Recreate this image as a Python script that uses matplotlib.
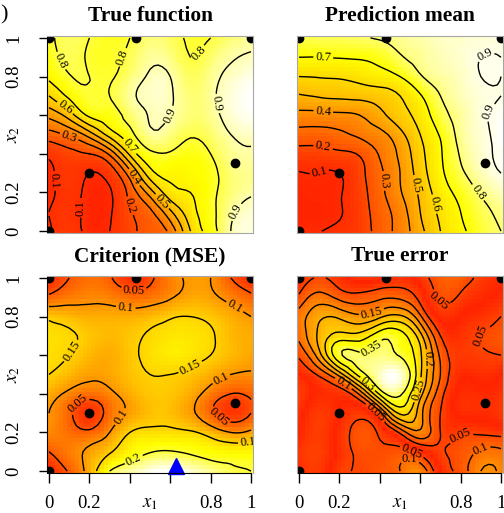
import numpy as np
import matplotlib
matplotlib.use("Agg")
import matplotlib.pyplot as plt
import matplotlib.tri as mtri
from matplotlib.colors import ListedColormap
from matplotlib.transforms import offset_copy

plt.rc('font', family='Liberation Serif', size=13.5)
plt.rc('mathtext', fontset='stix')

# surfaces read on a coarse 11 x 11 grid; rows are x2 = 0..1, columns x1 = 0..1
grid = np.round(np.linspace(0, 1, 11), 1)

true_f = np.array([
    [0.09, 0.13, 0.08, 0.10, 0.17, 0.24, 0.33, 0.60, 0.75, 0.90, 0.94],
    [0.10, 0.12, 0.08, 0.09, 0.19, 0.28, 0.48, 0.66, 0.77, 0.88, 0.93],
    [0.08, 0.12, 0.08, 0.09, 0.23, 0.45, 0.66, 0.70, 0.77, 0.85, 0.89],
    [0.08, 0.13, 0.10, 0.14, 0.36, 0.66, 0.72, 0.73, 0.77, 0.85, 0.87],
    [0.12, 0.17, 0.20, 0.32, 0.62, 0.78, 0.79, 0.76, 0.80, 0.87, 0.89],
    [0.26, 0.32, 0.45, 0.64, 0.77, 0.88, 0.86, 0.81, 0.84, 0.90, 0.92],
    [0.43, 0.55, 0.72, 0.76, 0.84, 0.905, 0.90, 0.85, 0.87, 0.93, 0.96],
    [0.60, 0.72, 0.79, 0.80, 0.88, 0.92, 0.91, 0.85, 0.88, 0.94, 0.97],
    [0.72, 0.795, 0.80, 0.79, 0.85, 0.91, 0.90, 0.83, 0.87, 0.92, 0.95],
    [0.76, 0.82, 0.79, 0.78, 0.82, 0.88, 0.86, 0.80, 0.84, 0.89, 0.91],
    [0.78, 0.83, 0.80, 0.77, 0.80, 0.85, 0.83, 0.79, 0.80, 0.85, 0.88],
])

pred_mean = np.array([
    [0.085, 0.098, 0.115, 0.15, 0.24, 0.34, 0.47, 0.60, 0.68, 0.75, 0.80],
    [0.075, 0.08, 0.095, 0.15, 0.25, 0.35, 0.50, 0.62, 0.70, 0.77, 0.82],
    [0.08, 0.085, 0.095, 0.16, 0.27, 0.39, 0.52, 0.65, 0.73, 0.81, 0.86],
    [0.097, 0.098, 0.10, 0.17, 0.28, 0.40, 0.55, 0.68, 0.78, 0.86, 0.90],
    [0.16, 0.16, 0.18, 0.21, 0.31, 0.42, 0.57, 0.69, 0.81, 0.88, 0.91],
    [0.26, 0.26, 0.28, 0.32, 0.37, 0.47, 0.60, 0.71, 0.83, 0.885, 0.92],
    [0.37, 0.37, 0.38, 0.40, 0.47, 0.56, 0.64, 0.76, 0.84, 0.89, 0.91],
    [0.49, 0.51, 0.52, 0.53, 0.55, 0.60, 0.69, 0.80, 0.86, 0.89, 0.90],
    [0.60, 0.605, 0.61, 0.63, 0.66, 0.70, 0.79, 0.84, 0.87, 0.90, 0.90],
    [0.70, 0.70, 0.705, 0.71, 0.73, 0.79, 0.83, 0.86, 0.88, 0.90, 0.90],
    [0.77, 0.775, 0.78, 0.79, 0.81, 0.83, 0.85, 0.87, 0.88, 0.885, 0.89],
])

mse = np.array([
    [0.01, 0.055, 0.12, 0.20, 0.225, 0.24, 0.245, 0.235, 0.22, 0.205, 0.20],
    [0.05, 0.08, 0.11, 0.145, 0.18, 0.198, 0.202, 0.195, 0.185, 0.18, 0.18],
    [0.09, 0.07, 0.06, 0.10, 0.15, 0.16, 0.16, 0.155, 0.13, 0.10, 0.11],
    [0.10, 0.06, 0.02, 0.07, 0.11, 0.135, 0.135, 0.11, 0.06, 0.025, 0.05],
    [0.12, 0.09, 0.07, 0.09, 0.12, 0.14, 0.14, 0.12, 0.08, 0.05, 0.06],
    [0.15, 0.13, 0.11, 0.115, 0.135, 0.15, 0.15, 0.14, 0.12, 0.10, 0.095],
    [0.16, 0.15, 0.13, 0.12, 0.14, 0.16, 0.17, 0.165, 0.15, 0.13, 0.115],
    [0.16, 0.155, 0.14, 0.13, 0.14, 0.155, 0.165, 0.165, 0.155, 0.13, 0.12],
    [0.14, 0.13, 0.12, 0.12, 0.12, 0.13, 0.145, 0.15, 0.14, 0.12, 0.10],
    [0.06, 0.08, 0.09, 0.085, 0.07, 0.075, 0.095, 0.115, 0.11, 0.085, 0.06],
    [0.015, 0.05, 0.07, 0.055, 0.02, 0.04, 0.085, 0.105, 0.10, 0.05, 0.015],
])

# design points and the next chosen input
design_x1 = [0.0, 0.0, 0.43, 1.0, 0.2, 0.92]
design_x2 = [0.0, 1.0, 1.0, 1.0, 0.3, 0.35]
next_x1 = [0.63]
next_x2 = [0.0]

titles = ["True function", "Prediction mean", "Criterion (MSE)", "True error"]
level_sets = [np.arange(0.1, 0.95, 0.1), np.arange(0.1, 0.95, 0.1),
              np.arange(0.05, 0.21, 0.05), np.arange(0.05, 0.36, 0.05)]
ticks = [0, 0.2, 0.4, 0.6, 0.8, 1]
tick_labels = ["0", "0.2", "", "", "0.8", "1"]


def heat_colors(n=128, g0=0.14):
    # heat.colors-style ramp: red-orange -> yellow -> pale yellow
    j = n // 4
    i = n - j
    g = np.linspace(g0, 1, i)
    reds = np.column_stack([np.ones(i), g, np.zeros(i)])
    s = np.linspace(1 - 1 / (2 * j), 1 / (2 * j), j)
    pales = np.column_stack([np.ones(j), np.ones(j), 1 - s])
    return ListedColormap(np.vstack([reds, pales]))


cmap = heat_colors()

# smooth surfaces on a 51 x 51 image grid
gx, gy = np.meshgrid(grid, grid)
tri = mtri.Triangulation(gx.ravel(), gy.ravel())
fine = np.linspace(0, 1, 51)
fx, fy = np.meshgrid(fine, fine)
edges = np.linspace(-0.01, 1.01, 52)


def smooth(z):
    interp = mtri.CubicTriInterpolator(tri, z.ravel(), kind="min_E")
    return np.asarray(interp(fx, fy))


zf = smooth(true_f)
zm = smooth(pred_mean)
zs = smooth(mse)
ze = np.abs(zf - zm)
fields = [zf, zm, zs, ze]

W, H = 504, 513
fig = plt.figure(figsize=(W / 100, H / 100), dpi=100)
lefts = [47, 297, 47, 297]
bottoms = [H - 233, H - 233, H - 473, H - 473]

for k in range(4):
    ax = fig.add_axes([lefts[k] / W, bottoms[k] / H, 206 / W, 197 / H])
    z = fields[k]
    ax.pcolormesh(edges, edges, z, cmap=cmap, vmin=z.min(), vmax=z.max(),
                  shading="flat", rasterized=True)
    cs = ax.contour(fine, fine, z, levels=level_sets[k], colors="black",
                    linewidths=1.0)
    ax.clabel(cs, fontsize=9, fmt=lambda v: f"{v:g}", inline=True,
              inline_spacing=2)
    ax.plot(design_x1, design_x2, "o", color="black", ms=6)
    if k == 2:
        tr = offset_copy(ax.transData, fig=fig, y=5, units="dots")
        ax.plot(next_x1, next_x2, "^", color="blue", ms=11, transform=tr,
                clip_on=False)
    ax.set_xlim(-0.01, 1.01)
    ax.set_ylim(-0.01, 1.01)
    for sp in ax.spines.values():
        sp.set_color("0.65")
        sp.set_linewidth(0.8)

    ax.text(0.5, 1 + 20 / 197, titles[k], transform=ax.transAxes,
            ha="center", va="center", fontsize=15.4, fontweight="bold")

    if k in (0, 2):
        ax.set_yticks(ticks)
        ax.set_yticklabels(tick_labels, rotation=90, va="center")
        ax.tick_params(axis="y", direction="out", length=6, width=1, pad=12)
        ax.spines["left"].set_color("black")
        ax.spines["left"].set_bounds(0, 1)
        ax.text(-0.165, 0.5, r"$x_2$", transform=ax.transAxes, rotation=90,
                ha="center", va="center")
    else:
        ax.set_yticks([])
    if k in (2, 3):
        ax.set_xticks(ticks)
        ax.set_xticklabels(tick_labels)
        ax.tick_params(axis="x", direction="out", length=7, width=1, pad=9)
        ax.spines["bottom"].set_color("black")
        ax.spines["bottom"].set_bounds(0, 1)
        ax.text(0.5, -0.155, r"$x_1$", transform=ax.transAxes,
                ha="center", va="center")
    else:
        ax.set_xticks([])

fig.text(4 / W, 1 - 15 / H, ")", ha="center", va="center", fontsize=16)

fig.savefig("out.png", dpi=100)
